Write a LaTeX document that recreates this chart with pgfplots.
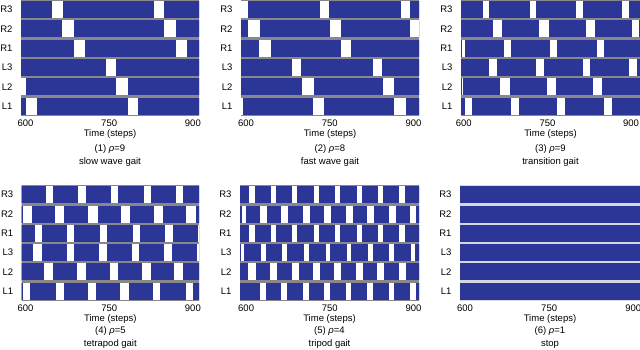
\documentclass[border=0pt]{standalone}
\usepackage{fontspec}
\setmainfont{Liberation Sans}
\usepackage{pgfplots}
\pgfplotsset{compat=1.18}

\definecolor{gaitblue}{RGB}{44,54,150}
\definecolor{sepgray}{RGB}{135,135,140}
\definecolor{seplight}{RGB}{215,215,225}
\newcommand{\fs}{\fontsize{9.5bp}{12bp}\selectfont}

\pgfplotsset{
  panel/.style={scale only axis, width=178bp, height=116bp, anchor=north west,
    ymin=0.5, ymax=6.5, ytick={1,...,6}, yticklabels={L1,L2,L3,R1,R2,R3},
    xtick={600,750,900}, axis line style={draw=none}, major tick length=0pt,
    tick label style={font=\fs}, label style={font=\fs},
    /pgf/number format/assume math mode=true,
    yticklabel style={xshift=-5bp},
    xlabel style={align=center, yshift=3bp},
    unbounded coords=jump, no markers},
  band/.style={draw=sepgray, line width=19.4bp},
  bar/.style={draw=gaitblue, line width=17bp},
  gap/.style={draw=white, line width=17bp},
}

% six full-width rows (L1..R3), clipped to the plot area
\newcommand{\rowsof}[1]{\addplot[#1] coordinates {(500,1)(1000,1)(nan,nan)(500,2)(1000,2)(nan,nan)(500,3)(1000,3)(nan,nan)(500,4)(1000,4)(nan,nan)(500,5)(1000,5)(nan,nan)(500,6)(1000,6)};}

\begin{document}
\begin{tikzpicture}
\useasboundingbox (0,0) rectangle (640bp,-350bp);

% (1) slow wave gait
\begin{axis}[panel, at={(21bp,0bp)}, xmin=592, xmax=911,
  xlabel={Time (steps)\\[3bp](1) \textit{ρ}=9\\[1bp]slow wave gait}]
\rowsof{band}\rowsof{bar}
\addplot[gap] coordinates {(648,6)(667,6)(nan,nan)(831,6)(849,6)};
\addplot[gap] coordinates {(666,5)(687,5)(nan,nan)(849,5)(870,5)};
\addplot[gap] coordinates {(687,4)(707,4)(nan,nan)(869,4)(889,4)};
\addplot[gap] coordinates {(744,3)(763,3)};
\addplot[gap] coordinates {(592,2)(601,2)(nan,nan)(762,2)(783,2)};
\addplot[gap] coordinates {(601,1)(620,1)(nan,nan)(783,1)(802,1)};
\end{axis}

% (2) fast wave gait
\begin{axis}[panel, at={(241bp,0bp)}, xmin=591, xmax=910,
  xlabel={Time (steps)\\[3bp](2) \textit{ρ}=8\\[1bp]fast wave gait}]
\rowsof{band}\rowsof{bar}
\addplot[gap] coordinates {(591,6)(604,6)(nan,nan)(732,6)(749,6)(nan,nan)(877,6)(894,6)};
\addplot[gap] coordinates {(604,5)(625,5)(nan,nan)(750,5)(770,5)(nan,nan)(894,5)(910,5)};
\addplot[gap] coordinates {(624,4)(644,4)(nan,nan)(770,4)(788,4)};
\addplot[gap] coordinates {(682,3)(699,3)(nan,nan)(828,3)(844,3)};
\addplot[gap] coordinates {(700,2)(721,2)(nan,nan)(846,2)(865,2)};
\addplot[gap] coordinates {(591,1)(595,1)(nan,nan)(720,1)(740,1)(nan,nan)(865,1)(886,1)};
\end{axis}

% (3) transition gait
\begin{axis}[panel, at={(461bp,0bp)}, width=179bp, xmin=595, xmax=916,
  xlabel={Time (steps)\\[3bp](3) \textit{ρ}=9\\[1bp]transition gait}]
\rowsof{band}\rowsof{bar}
\addplot[gap] coordinates {(634,6)(646,6)(nan,nan)(718,6)(730,6)(nan,nan)(801,6)(813,6)(nan,nan)(884,6)(896,6)};
\addplot[gap] coordinates {(652,5)(669,5)(nan,nan)(735,5)(753,5)(nan,nan)(819,5)(836,5)(nan,nan)(902,5)(914,5)};
\addplot[gap] coordinates {(596,4)(602,4)(nan,nan)(672,4)(685,4)(nan,nan)(755,4)(768,4)(nan,nan)(839,4)(851,4)};
\addplot[gap] coordinates {(646,3)(660,3)(nan,nan)(730,3)(744,3)(nan,nan)(813,3)(827,3)(nan,nan)(897,3)(911,3)};
\addplot[gap] coordinates {(596,2)(598,2)(nan,nan)(665,2)(682,2)(nan,nan)(749,2)(765,2)(nan,nan)(832,2)(848,2)};
\addplot[gap] coordinates {(602,1)(615,1)(nan,nan)(685,1)(699,1)(nan,nan)(768,1)(782,1)(nan,nan)(852,1)(866,1)};
\end{axis}

% (4) tetrapod gait
\begin{axis}[panel, at={(21.7bp,-185bp)}, width=177.3bp, xmin=593, xmax=911,
  xlabel={Time (steps)\\[0bp](4) \textit{ρ}=5\\[1bp]tetrapod gait}]
\rowsof{band}\rowsof{bar}
\addplot[gap] coordinates {(636,6)(649,6)(nan,nan)(694,6)(709,6)(nan,nan)(753,6)(766,6)(nan,nan)(812,6)(825,6)(nan,nan)(870,6)(882,6)};
\addplot[gap] coordinates {(595,5)(611,5)(nan,nan)(653,5)(669,5)(nan,nan)(712,5)(729,5)(nan,nan)(771,5)(788,5)(nan,nan)(830,5)(846,5)(nan,nan)(888,5)(905,5)};
\addplot[gap] coordinates {(616,4)(630,4)(nan,nan)(674,4)(687,4)(nan,nan)(733,4)(746,4)(nan,nan)(792,4)(806,4)(nan,nan)(850,4)(864,4)(nan,nan)(909,4)(912,4)};
\addplot[gap] coordinates {(614,3)(629,3)(nan,nan)(674,3)(687,3)(nan,nan)(732,3)(746,3)(nan,nan)(791,3)(804,3)(nan,nan)(849,3)(862,3)(nan,nan)(908,3)(912,3)};
\addplot[gap] coordinates {(633,2)(649,2)(nan,nan)(692,2)(709,2)(nan,nan)(751,2)(766,2)(nan,nan)(809,2)(825,2)(nan,nan)(867,2)(883,2)};
\addplot[gap] coordinates {(595,1)(608,1)(nan,nan)(654,1)(668,1)(nan,nan)(712,1)(727,1)(nan,nan)(770,1)(785,1)(nan,nan)(829,1)(841,1)(nan,nan)(888,1)(900,1)};
\end{axis}

% (5) tripod gait
\begin{axis}[panel, at={(240bp,-185bp)}, width=179bp, xmin=589, xmax=910,
  xlabel={Time (steps)\\[0bp](5) \textit{ρ}=4\\[1bp]tripod gait}]
\rowsof{band}\rowsof{bar}
\addplot[gap] coordinates {(605,6)(615,6)(nan,nan)(644,6)(654,6)(nan,nan)(683,6)(692,6)(nan,nan)(721,6)(731,6)(nan,nan)(760,6)(769,6)(nan,nan)(798,6)(808,6)(nan,nan)(836,6)(846,6)(nan,nan)(875,6)(884,6)};
\addplot[gap] coordinates {(592,5)(599,5)(nan,nan)(625,5)(637,5)(nan,nan)(663,5)(675,5)(nan,nan)(702,5)(714,5)(nan,nan)(740,5)(752,5)(nan,nan)(779,5)(791,5)(nan,nan)(817,5)(829,5)(nan,nan)(856,5)(869,5)(nan,nan)(894,5)(904,5)};
\addplot[gap] coordinates {(605,4)(615,4)(nan,nan)(644,4)(654,4)(nan,nan)(683,4)(692,4)(nan,nan)(721,4)(731,4)(nan,nan)(760,4)(769,4)(nan,nan)(798,4)(808,4)(nan,nan)(836,4)(846,4)(nan,nan)(875,4)(884,4)};
\addplot[gap] coordinates {(590,3)(597,3)(nan,nan)(627,3)(635,3)(nan,nan)(665,3)(673,3)(nan,nan)(704,3)(712,3)(nan,nan)(743,3)(750,3)(nan,nan)(781,3)(788,3)(nan,nan)(819,3)(827,3)(nan,nan)(857,3)(865,3)(nan,nan)(895,3)(902,3)};
\addplot[gap] coordinates {(604,2)(618,2)(nan,nan)(643,2)(656,2)(nan,nan)(682,2)(694,2)(nan,nan)(720,2)(733,2)(nan,nan)(758,2)(771,2)(nan,nan)(797,2)(809,2)(nan,nan)(835,2)(848,2)(nan,nan)(874,2)(887,2)};
\addplot[gap] coordinates {(624,1)(635,1)(nan,nan)(663,1)(673,1)(nan,nan)(702,1)(712,1)(nan,nan)(740,1)(750,1)(nan,nan)(779,1)(788,1)(nan,nan)(817,1)(827,1)(nan,nan)(856,1)(865,1)(nan,nan)(894,1)(904,1)};
\end{axis}

% (6) stop
\begin{axis}[panel, at={(460bp,-185bp)}, width=180bp, xmin=591, xmax=912,
  xlabel={Time (steps)\\[0bp](6) \textit{ρ}=1\\[1bp]stop}]
\rowsof{band, draw=seplight}\rowsof{bar}
\end{axis}
\end{tikzpicture}
\end{document}
